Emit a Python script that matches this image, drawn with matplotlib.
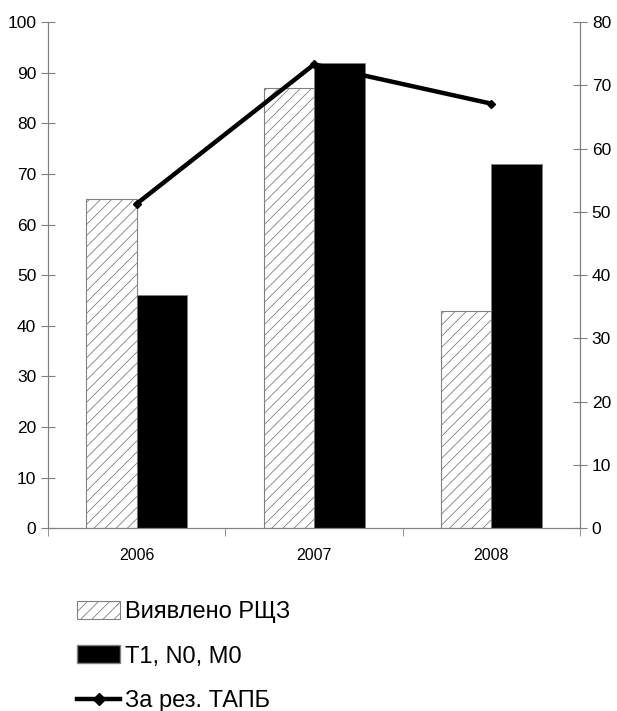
import numpy as np
import matplotlib.pyplot as plt
from matplotlib.patches import Patch
from matplotlib.lines import Line2D

plt.rcParams['font.family'] = ['Liberation Sans', 'DejaVu Sans']
plt.rcParams['hatch.color'] = '#808080'
plt.rcParams['hatch.linewidth'] = 0.6

# дані
roky = ['2006', '2007', '2008']
vyiavleno = [65, 87, 43]        # Виявлено РЩЗ (ліва вісь)
t1n0m0 = [46, 92, 72]           # T1, N0, M0 (ліва вісь)
za_tapb = [51.3, 73.3, 67.1]    # За рез. ТАПБ (права вісь)

fig = plt.figure(figsize=(6.17, 7.11), dpi=100)
ax = fig.add_axes([0.078, 0.257, 0.862, 0.712])
ax2 = ax.twinx()

x = np.arange(len(roky))
w = 0.285
ax.bar(x - w/2, vyiavleno, w, facecolor='white', edgecolor='#808080',
       linewidth=0.8, hatch='///')
ax.bar(x + w/2, t1n0m0, w, color='black', edgecolor='#808080', linewidth=0.6)
ax2.plot(x, za_tapb, color='black', lw=3.2, marker='D', ms=4)

ax.set_xlim(-0.5, 2.5)
ax.set_ylim(0, 100)
ax2.set_ylim(0, 80)
ax.set_yticks(range(0, 101, 10))
ax2.set_yticks(range(0, 81, 10))
ax.set_xticks(x)
ax.set_xticklabels(roky, fontsize=11.5)
ax.set_xticks([-0.5, 0.5, 1.5, 2.5], minor=True)
ax.tick_params(axis='x', which='major', length=0, pad=14)
ax.tick_params(axis='x', which='minor', length=6, color='#808080')
ax.tick_params(axis='y', direction='inout', length=10, color='#808080',
               labelsize=12.5)
ax2.tick_params(axis='y', direction='inout', length=10, color='#808080',
                labelsize=12.5)

for a in (ax, ax2):
    a.spines['top'].set_visible(False)
    for s in ('left', 'right', 'bottom'):
        a.spines[s].set_color('#808080')
ax2.set_zorder(ax.get_zorder() + 1)
ax2.patch.set_visible(False)

handles = [
    Patch(facecolor='white', edgecolor='#808080', hatch='///', lw=0.8),
    Patch(facecolor='black', edgecolor='#808080'),
    Line2D([], [], color='black', lw=3.2, marker='D', ms=6),
]
labels = ['Виявлено РЩЗ', 'T1, N0, M0', 'За рез. ТАПБ']
fig.legend(handles, labels, loc='upper left', bbox_to_anchor=(0.09, 0.185),
           frameon=False, fontsize=17, labelspacing=0.95, handlelength=1.85,
           handleheight=0.8, handletextpad=0.2)

fig.savefig('out.png', dpi=100)
